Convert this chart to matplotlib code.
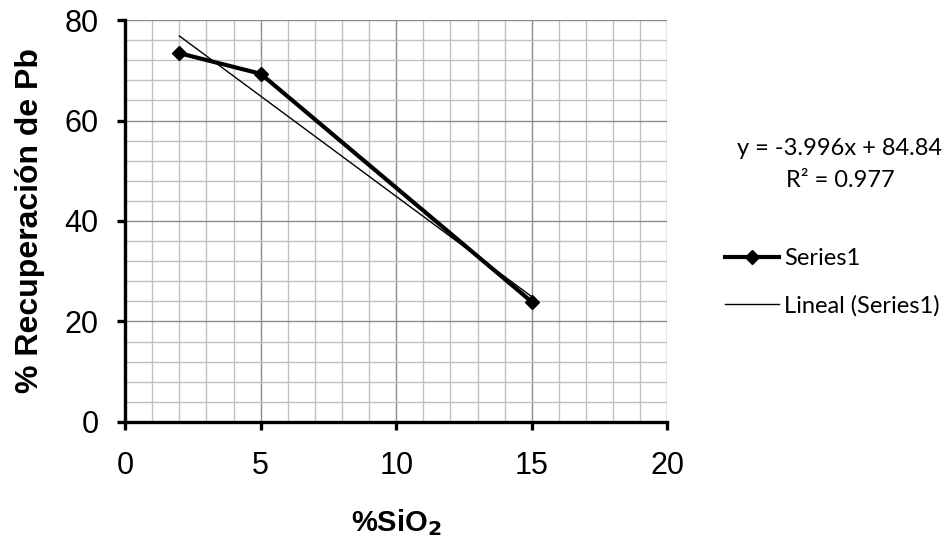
import numpy as np
import matplotlib.pyplot as plt
from matplotlib.ticker import MultipleLocator

# data
sio2 = [2, 5, 15]
recuperacion = [73.4, 69.3, 23.9]
x_ticks = [0, 5, 10, 15, 20]
y_ticks = [0, 20, 40, 60, 80]
eq_text = "y = -3.996x + 84.84"
r2_text = "R² = 0.977"

plt.rcParams['font.family'] = ['Liberation Sans', 'DejaVu Sans']

fig = plt.figure(figsize=(9.48, 5.41), dpi=100)
ax = fig.add_axes([0.132, 0.22, 0.572, 0.743])

# linear trend line over the data range
m, b = np.polyfit(sio2, recuperacion, 1)
xf = np.array([min(sio2), max(sio2)])

ax.plot(sio2, recuperacion, color='black', lw=3.0, marker='D', ms=7,
        label='Series1', zorder=4)
ax.plot(xf, m * xf + b, color='black', lw=1.0, label='Lineal (Series1)', zorder=3)

ax.set_xlim(0, 20)
ax.set_ylim(0, 80)
ax.set_xticks(x_ticks)
ax.set_yticks(y_ticks)
ax.xaxis.set_minor_locator(MultipleLocator(1))
ax.yaxis.set_minor_locator(MultipleLocator(4))
ax.grid(which='major', color='#8c8c8c', lw=1.0)
ax.grid(which='minor', color='#c0c0c0', lw=1.0)
ax.set_axisbelow(True)

for s in ['top', 'right']:
    ax.spines[s].set_visible(False)
for s in ['left', 'bottom']:
    ax.spines[s].set_linewidth(2.4)
ax.tick_params(which='major', direction='out', length=6, width=2.4,
               labelsize=22)
ax.tick_params(axis='y', which='major', pad=13)
ax.tick_params(axis='x', which='major', pad=15)
ax.tick_params(which='minor', length=0)

ax.set_ylabel('% Recuperación de Pb', fontsize=23, fontweight='bold', labelpad=14)
ax.set_xlabel('%SiO$_\\mathbf{2}$', fontsize=21, fontweight='bold', labelpad=19)

fig.text(0.886, 0.726, eq_text, fontsize=17, family=['Lato', 'DejaVu Sans'],
         ha='center', va='center')
fig.text(0.886, 0.667, r2_text, fontsize=17, family=['Lato', 'DejaVu Sans'],
         ha='center', va='center')

leg = fig.legend(loc='center left', bbox_to_anchor=(0.752, 0.478), frameon=False,
                 prop={'family': 'Lato', 'size': 17}, handlelength=2.3,
                 handletextpad=0.2, labelspacing=1.1, borderpad=0)

fig.savefig('out.png', dpi=100)
